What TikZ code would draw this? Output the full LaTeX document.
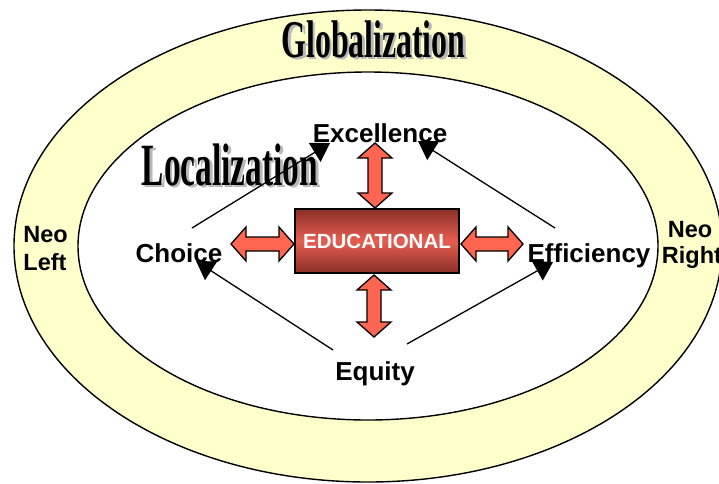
\documentclass[tikz,border=0pt]{standalone}
\usepackage{fontspec}
\setmainfont{Liberation Sans}
\newfontfamily\serifb{Liberation Serif}
\usetikzlibrary{arrows.meta}
\definecolor{ringyellow}{HTML}{FFFFCC}
\definecolor{salmon}{HTML}{FF6652}
\definecolor{boxdark}{HTML}{8A2F27}
\definecolor{boxlight}{HTML}{E65E50}
\newcommand\dblarrow[3]{%
  \begin{scope}[shift={(#1)}, rotate=#2]
    \draw[blockarrow] (-#3/2,0) -- ++(15,17) -- ++(0,-10) -- (#3/2-15,7) -- ++(0,10)
      -- (#3/2,0) -- ++(-15,-17) -- ++(0,10) -- (-#3/2+15,-7) -- ++(0,-10) -- cycle;
  \end{scope}}
\begin{document}
\begin{tikzpicture}[x=1pt,y=-1pt,
  ring/.style={draw=black, line width=1.4pt},
  blockarrow/.style={draw=black, line width=1.3pt, fill=salmon, line join=miter},
  lab/.style={font=\bfseries\fontsize{26}{30}\selectfont, inner sep=0pt, anchor=base},
  neolab/.style={font=\bfseries\fontsize{23.5}{28}\selectfont, inner sep=0pt, anchor=base},
  conn/.style={draw=black, line width=1.3pt, -{Triangle[length=18pt,width=22pt]}},
  bigtitle/.style={font=\serifb\bfseries\fontsize{#1}{#1}\selectfont, inner sep=0pt, anchor=base},
  shadowtxt/.style={text=black!28},
  edbox/.style={draw=black, line width=1.3pt, minimum width=164pt, minimum height=64pt,
    top color=boxdark, bottom color=boxdark, middle color=boxlight,
    text=white, font=\bfseries\fontsize{20.5}{22}\selectfont}]
\useasboundingbox (0,0) rectangle (719,483);
\fill[white] (0,0) rectangle (719,483);
% rings
\draw[ring, fill=ringyellow] (368,246) ellipse [x radius=354pt, y radius=236pt];
\draw[ring, fill=white] (368,246) ellipse [x radius=290pt, y radius=174pt];
% titles
\node[bigtitle=53, shadowtxt] (globs) at (376,59.5) {\scalebox{0.6}[1]{Globalization}};
\node[bigtitle=53] (glob) at (373.5,57) {\scalebox{0.6}[1]{Globalization}};
% labels
\node[neolab] (neo1) at (45.5,242) {Neo};
\node[neolab] (left) at (45,270) {Left};
\node[neolab] (neo2) at (690,237) {Neo};
\node[neolab] (right) at (692,263) {Right};
\node[lab] (exc) at (380,142) {Excellence};
\node[lab] (cho) at (179,262) {Choice};
\node[lab] (eff) at (589,262) {Efficiency};
\node[lab] (equ) at (375,380) {Equity};
\node[bigtitle=60, shadowtxt] (locs) at (232.5,187.5) {\scalebox{0.556}[1]{Localization}};
\node[bigtitle=60] (loc) at (230,185) {\scalebox{0.556}[1]{Localization}};
% central box
\node[edbox] (edu) at (377,241) {EDUCATIONAL};
% block arrows
\dblarrow{375,175.5}{90}{65}
\dblarrow{374,306}{90}{62}
\dblarrow{262.5,244}{0}{63}
\dblarrow{492,244}{0}{62}
% connectors
\coordinate (c1) at (192,228); \coordinate (e1) at (330,143);
\coordinate (f1) at (555,228); \coordinate (e2) at (418,141);
\coordinate (q1) at (333,350); \coordinate (c2) at (196,261);
\coordinate (q2) at (407,344); \coordinate (f2) at (553,262);
\draw[conn] (c1) -- (e1);
\draw[conn] (f1) -- (e2);
\draw[conn] (q1) -- (c2);
\draw[conn] (q2) -- (f2);
\end{tikzpicture}
\end{document}
